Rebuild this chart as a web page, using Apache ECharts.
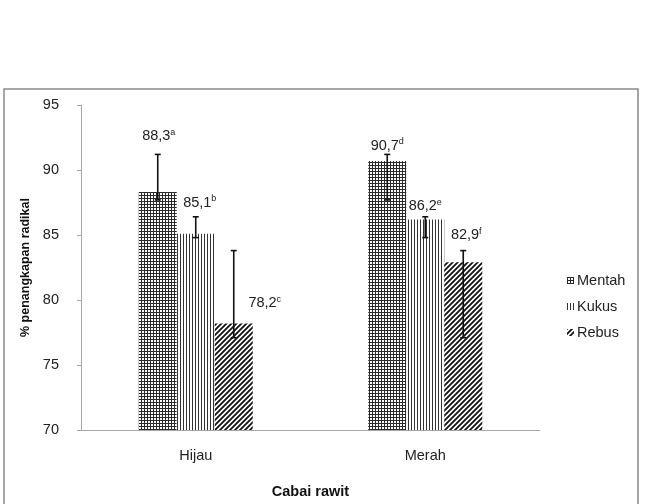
<!DOCTYPE html>
<html>
<head>
<meta charset="utf-8">
<script src="https://cdn.jsdelivr.net/npm/echarts@6/dist/echarts.min.js"></script>
<style>html,body{margin:0;padding:0;background:#fff}#c{width:648px;height:504px}</style>
</head>
<body>
<div id="c"></div>
<script>
// ---- data ----
var categories = ['Hijau', 'Merah'];
var seriesNames = ['Mentah', 'Kukus', 'Rebus'];
var mentah = [88.3, 90.7];
var kukus = [85.1, 86.2];
var rebus = [78.2, 82.9];
var mentahErrLow = [87.7, 87.7], mentahErrHigh = [91.2, 91.2];
var kukusErrLow = [84.8, 84.8], kukusErrHigh = [86.4, 86.4];
var rebusErrLow = [77.1, 77.1], rebusErrHigh = [83.8, 83.8];
var mentahLetters = ['a', 'd'];
var kukusLetters = ['b', 'e'];
var rebusLetters = ['c', 'f'];
var yTicks = [70, 75, 80, 85, 90, 95];

// ---- styles (label placement offsets, pixels) ----
var labelOffsets = [
  [[1, -47.5], [0, -6.5]],
  [[4, -22.5], [0, -4.5]],
  [[31, -11.5], [3, -18.5]]
];
var BAR_W = 38;
var FONT = 'Liberation Sans, Arial, sans-serif';

function makePattern(type) {
  var c = document.createElement('canvas');
  var ctx = c.getContext('2d');
  if (type === 'grid') {
    c.width = 3; c.height = 3;
    ctx.fillStyle = '#fff'; ctx.fillRect(0, 0, 3, 3);
    ctx.fillStyle = '#2a2a2a';
    ctx.fillRect(0, 0, 1, 3);
    ctx.fillRect(0, 0, 3, 1);
  } else if (type === 'vert') {
    c.width = 3; c.height = 3;
    ctx.fillStyle = '#fff'; ctx.fillRect(0, 0, 3, 3);
    ctx.fillStyle = '#333';
    ctx.fillRect(0, 0, 1, 3);
  } else {
    c.width = 5; c.height = 5;
    ctx.fillStyle = '#fff'; ctx.fillRect(0, 0, 5, 5);
    ctx.strokeStyle = '#111'; ctx.lineWidth = 1.8;
    ctx.beginPath();
    ctx.moveTo(-1, 1); ctx.lineTo(1, -1);
    ctx.moveTo(0, 5); ctx.lineTo(5, 0);
    ctx.moveTo(4, 6); ctx.lineTo(6, 4);
    ctx.stroke();
  }
  return { image: c, repeat: 'repeat' };
}
var patterns = [makePattern('grid'), makePattern('vert'), makePattern('diag')];

var values = [mentah, kukus, rebus];
var letters = [mentahLetters, kukusLetters, rebusLetters];
var errLow = [mentahErrLow, kukusErrLow, rebusErrLow];
var errHigh = [mentahErrHigh, kukusErrHigh, rebusErrHigh];

function fmt(v) { return v.toFixed(1).replace('.', ','); }

var series = [];
seriesNames.forEach(function (name, si) {
  series.push({
    name: name,
    type: 'bar',
    barWidth: BAR_W,
    barGap: '0%',
    itemStyle: { color: patterns[si] },
    data: values[si].map(function (v, ci) {
      return {
        value: v,
        label: {
          show: true,
          position: 'top',
          distance: 0,
          offset: labelOffsets[si][ci],
          formatter: '{v|' + fmt(v) + '}{s|' + letters[si][ci] + '}',
          rich: {
            v: { fontSize: 14.5, fontFamily: FONT, color: '#222', lineHeight: 17 },
            s: { fontSize: 9, fontFamily: FONT, color: '#222', lineHeight: 11, verticalAlign: 'top' }
          }
        }
      };
    })
  });
});

var errData = [];
seriesNames.forEach(function (name, si) {
  categories.forEach(function (c, ci) {
    errData.push([ci, errLow[si][ci], errHigh[si][ci], si]);
  });
});

series.push({
  type: 'custom',
  name: 'err',
  z: 10,
  silent: true,
  encode: { x: 0, y: [1, 2] },
  data: errData,
  renderItem: function (params, api) {
    var ci = api.value(0), si = api.value(3);
    var lo = api.coord([ci, api.value(1)]);
    var hi = api.coord([ci, api.value(2)]);
    var x = lo[0] + (si - 1) * BAR_W;
    var cap = 3;
    var st = { stroke: '#111', lineWidth: 1.6 };
    return {
      type: 'group',
      children: [
        { type: 'line', shape: { x1: x, y1: lo[1], x2: x, y2: hi[1] }, style: st },
        { type: 'line', shape: { x1: x - cap, y1: lo[1], x2: x + cap, y2: lo[1] }, style: st },
        { type: 'line', shape: { x1: x - cap, y1: hi[1], x2: x + cap, y2: hi[1] }, style: st }
      ]
    };
  }
});

var chart = echarts.init(document.getElementById('c'), null, { renderer: 'canvas' });
chart.setOption({
  backgroundColor: '#fff',
  animation: false,
  textStyle: { fontFamily: FONT },
  graphic: [{
    type: 'rect',
    shape: { x: 4, y: 89, width: 634, height: 440 },
    style: { fill: 'none', stroke: '#8a8a8a', lineWidth: 1.5 },
    z: -10
  }],
  grid: { left: 81, right: 108, top: 105, bottom: 71, containLabel: false },
  legend: {
    data: seriesNames,
    orient: 'vertical',
    left: 562,
    top: 268,
    itemWidth: 7,
    itemHeight: 7,
    itemGap: 11,
    icon: 'rect',
    textStyle: { fontSize: 14.5, color: '#222', fontFamily: FONT, padding: [0, 0, 0, -2] }
  },
  xAxis: {
    type: 'category',
    data: categories,
    name: 'Cabai rawit',
    nameLocation: 'middle',
    nameGap: 54,
    nameTextStyle: { fontSize: 14.5, fontWeight: 'bold', color: '#111', fontFamily: FONT },
    axisLine: { lineStyle: { color: '#a6a6a6', width: 1 } },
    axisTick: { show: false },
    axisLabel: { fontSize: 14.5, color: '#222', margin: 18, fontFamily: FONT }
  },
  yAxis: {
    type: 'value',
    min: yTicks[0],
    max: yTicks[yTicks.length - 1],
    interval: 5,
    name: '% penangkapan radikal',
    nameLocation: 'middle',
    nameGap: 49,
    nameRotate: 90,
    nameTextStyle: { fontSize: 12.5, fontWeight: 'bold', color: '#111', fontFamily: FONT },
    axisLine: { show: true, lineStyle: { color: '#a6a6a6', width: 1 } },
    axisTick: { show: true, inside: false, length: 4, lineStyle: { color: '#a6a6a6' } },
    splitLine: { show: false },
    axisLabel: { fontSize: 14.5, color: '#222', margin: 22, fontFamily: FONT }
  },
  series: series
});
</script>
</body>
</html>
